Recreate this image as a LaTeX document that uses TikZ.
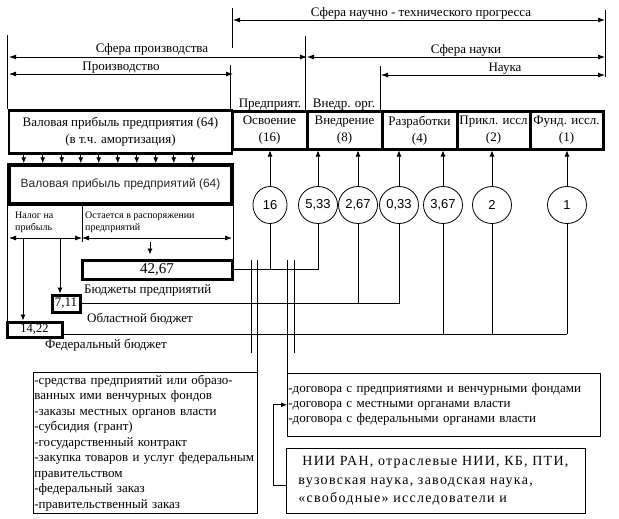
\documentclass[tikz,border=0pt]{standalone}
\usepackage{fontspec}
\setmainfont{Liberation Serif}
\setsansfont{Liberation Sans}
\newfontfamily\niifont[LetterSpace=9]{Liberation Serif}
\usetikzlibrary{arrows.meta,shapes.geometric}
\newcommand{\fsz}[2]{\fontsize{#1}{#2}\selectfont}
\tikzset{
  ln/.style={line width=0.8pt},
  arr/.style={line width=0.8pt,-{Latex[length=6pt,width=5pt]}},
  dimln/.style={line width=0.8pt,{Latex[length=7pt,width=5pt]}-{Latex[length=7pt,width=5pt]}},
  bx/.style={draw,line width=3pt,inner sep=0pt,align=center,font=\fsz{13}{17}},
  crc/.style={draw,ellipse,line width=0.8pt,minimum width=39pt,minimum height=37pt,inner sep=0pt,font=\sffamily\fsz{13}{13}},
  lbl/.style={anchor=base,inner sep=0pt,font=\fsz{13}{15}},
  lst/.style={draw,line width=0.8pt,anchor=north west,align=left,inner xsep=1pt,font=\fsz{13}{15.5}},
}
\begin{document}
\begin{tikzpicture}[x=1pt,y=-1pt]
\useasboundingbox (0,0) rectangle (619,519);

% dimension lines
\coordinate (tL) at (233,20);  \coordinate (tR) at (605,20);
\coordinate (spL) at (9,57);   \coordinate (spR) at (307,57);
\coordinate (snR) at (605,57);
\coordinate (prL) at (9,74);   \coordinate (prR) at (233,74);
\coordinate (nkL) at (381,75); \coordinate (nkR) at (605,75);

\draw[dimln] (tL) -- (tR);
\draw[dimln] (spL) -- (spR);
\draw[dimln] (spR) -- (snR);
\draw[dimln] (prL) -- (prR);
\draw[dimln] (nkL) -- (nkR);

\node[lbl] (tntp) at (421,17) {Сфера научно - технического прогресса};
\node[lbl] (tsp) at (152,53) {Сфера производства};
\node[lbl] (tsn) at (466,54) {Сфера науки};
\node[lbl] (tpr) at (121,71) {Производство};
\node[lbl] (tnk) at (505,72) {Наука};

% boxes in a row
\node[bx,line width=2.5pt,minimum width=223pt,minimum height=43pt] (vp1) at (120.5,132)
  {Валовая прибыль предприятия (64)\\(в т.ч. амортизация)};
\node[bx,minimum width=75pt,minimum height=37pt] (osv) at (269.5,130.5) {Освоение\\(16)};
\node[bx,minimum width=75pt,minimum height=37pt] (vnd) at (344.5,130.5) {Внедрение\\(8)};
\node[bx,minimum width=75pt,minimum height=37pt] (raz) at (419.5,130.5) {Разработки\\(4)};
\node[bx,minimum width=73pt,minimum height=37pt] (prk) at (493.5,130.5) {Прикл. иссл\\(2)};
\node[bx,minimum width=73pt,minimum height=37pt] (fnd) at (566.5,130.5) {Фунд. иссл.\\(1)};

\node[lbl] (lpred) at (270,107.5) {Предприят.};
\node[lbl] (lvnd) at (344,107.5) {Внедр. орг.};

% verticals at the top
\draw[ln] (vp1.north west) -- ++(0,-74);
\draw[ln] (osv.north west) -- ++(0,-45);
\draw[ln] (232,8) -- (232,48);
\draw[ln] (vnd.north west) -- ++(0,-74);
\draw[ln] (raz.north west) -- ++(0,-44);
\draw[ln] (605,10) -- (605,77);

% gross profit
\node[bx,line width=3.5pt,minimum width=223pt,minimum height=39pt,font=\sffamily\fsz{12}{14},text=black!85] (vp2) at (120.5,184.5)
  {Валовая прибыль предприятий (64)};
\foreach \dx in {16,35,54,73,91,110,129,148,166,185}
  \draw[arr] ([xshift=\dx pt]vp1.south west) -- ([xshift=\dx pt]vp1.south west |- vp2.north);

% budgets
\node[bx,minimum width=150pt,minimum height=19pt,font=\fsz{15}{15}] (b4267) at (157,269.5) {\raisebox{-1.5pt}{42,67}};
\node[bx,minimum width=28pt,minimum height=17pt] (b711) at (66,303.5) {7,11};
\node[bx,minimum width=55pt,minimum height=15pt,font=\fsz{12.5}{12.5}] (b1422) at (34.5,329.5) {14,22};

\node[lbl,anchor=base west] (lbp) at (84,293) {Бюджеты предприятий};
\node[lbl,anchor=base west] (lob) at (87,322) {Областной бюджет};
\node[lbl,anchor=base west] (lfb) at (45,348) {Федеральный бюджет};

\node[anchor=north west,inner sep=0pt,align=left,font=\fsz{10}{12}] (tax) at (15,212) {Налог на\\прибыль};
\node[anchor=north west,inner sep=0pt,align=left,font=\fsz{10}{12}] (rest) at (85,212) {Остается в распоряжении\\предприятий};

\coordinate (tl) at (9,238); \coordinate (tm) at (82,238); \coordinate (tr) at (232,238);
\draw[dimln] (tl) -- (tm);
\draw[dimln] (tm) -- (tr);
\draw[ln] (vp2.south west) -- (vp2.south west |- b1422.north);
\draw[ln] (vp2.south -| tm) -- ([yshift=-4pt]tm);
\draw[ln] (vp2.south east) -- (vp2.south east |- b4267.north);

\coordinate (af) at (23,238); \coordinate (ao) at (60,238); \coordinate (ap) at (150,242);
\draw[arr] (af) -- (af |- b1422.north);
\draw[arr] (ao) -- (ao |- b711.north);
\draw[arr,shorten >=4pt] (ap) -- (ap |- b4267.north);

% circles
\node[crc,minimum width=34pt] (c16) at (270,205) {16};
\node[crc] (c533) at (318,205) {5,33};
\node[crc] (c267) at (358,205) {2,67};
\node[crc] (c033) at (399,205) {0,33};
\node[crc] (c367) at (443,205) {3,67};
\node[crc] (c2) at (492,205) {2};
\node[crc] (c1) at (567,205) {1};

\draw[arr] (c16.north) -- (c16.north |- osv.south);
\draw[arr] (c533.north) -- (c533.north |- vnd.south);
\draw[arr] (c267.north) -- (c267.north |- vnd.south);
\draw[arr] (c033.north) -- (c033.north |- raz.south);
\draw[arr] (c367.north) -- (c367.north |- raz.south);
\draw[arr] (c2.north) -- (c2.north |- prk.south);
\draw[arr] (c1.north) -- (c1.north |- fnd.south);

% lines from the budgets
\draw[ln] (b4267.east) -- (b4267.east -| c533);
\draw[ln] (c16.south) -- (c16 |- b4267.east);
\draw[ln] (c533.south) -- (c533 |- b4267.east);

\draw[ln] (b711.east) -- (b711.east -| c033);
\draw[ln] (c267.south) -- (c267 |- b711.east);
\draw[ln] (c033.south) -- (c033 |- b711.east);

\coordinate (fe) at ([yshift=-4.5pt]b1422.east);
\draw[ln] (fe) -- (fe -| c1);
\draw[ln] (c367.south) -- (c367 |- fe);
\draw[ln] (c2.south) -- (c2 |- fe);
\draw[ln] (c1.south) -- (c1 |- fe);

% lists
\node[lst,text width=222pt,inner ysep=2.5pt] (lstA) at (33,372)
  {-средства предприятий или образо-\\ванных ими венчурных фондов\\-заказы местных органов власти\\-субсидия (грант)\\-государственный контракт\\-закупка товаров и услуг федеральным\\правительством\\-федеральный заказ\\-правительственный заказ};
\node[lst,text width=311pt,inner ysep=10.5pt,font=\fsz{13}{15}] (lstB) at (287,373)
  {-договора с предприятиями и венчурными фондами\\-договора с местными органами власти\\-договора с федеральными органами власти};
\node[lst,text width=275pt,inner xsep=12pt,inner ysep=8pt,font=\niifont\fsz{14}{18.5}] (nii) at (286,448)
  {\hspace{4pt}НИИ РАН, отраслевые НИИ, КБ, ПТИ,\\вузовская наука, заводская наука,\\«свободные» исследователи и};

\coordinate (vt1) at (251,260); \coordinate (vb1) at (251,353);
\coordinate (vt4) at (294,260); \coordinate (vb4) at (294,353);
\draw[ln] (vt1) -- (vb1);
\draw[ln] (vt4) -- (vb4);
\draw[ln] (lstA.north east) -- (lstA.north east |- vt1);
\draw[ln] (lstB.north west) -- (lstB.north west |- vt1);

\draw[arr] ([yshift=-5pt]nii.west) -- ++(-13,0) |- (lstB.west);

\end{tikzpicture}
\end{document}
